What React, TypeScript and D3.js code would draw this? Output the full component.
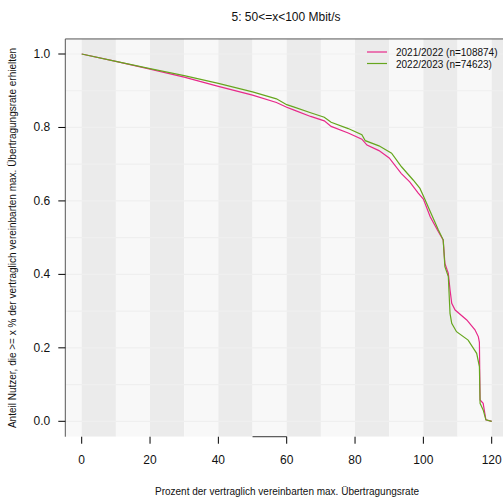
import React from "react";
import * as d3 from "d3";

const title = "5: 50<=x<100 Mbit/s";
const xLabel = "Prozent der vertraglich vereinbarten max. Übertragungsrate";
const yLabel = "Anteil Nutzer, die >= x % der vertraglich vereinbarten max. Übertragungsrate erhielten";
const seriesNames = ["2021/2022 (n=108874)", "2022/2023 (n=74623)"];
const seriesColors = ["#e7298a", "#66a61e"];
const xTicks = [0, 20, 40, 60, 80, 100, 120];
const yTicks = [0, 0.2, 0.4, 0.6, 0.8, 1.0];
const yGrid = [0, 0.1, 0.2, 0.3, 0.4, 0.5, 0.6, 0.7, 0.8, 0.9, 1.0];

const pinkX = [0, 10, 20, 30, 40, 50, 57, 60, 62, 67, 71, 73, 78, 82, 83.5, 87, 90, 93.5, 96, 98.5, 100, 102, 104.4, 105.8, 106.3, 107.3, 107.8, 108.3, 109.3, 112.7, 115.1, 116.1, 116.4, 116.6, 117.5, 118.3, 120];
const pinkY = [1.0, 0.98, 0.959, 0.937, 0.912, 0.888, 0.868, 0.855, 0.848, 0.83, 0.818, 0.803, 0.785, 0.768, 0.752, 0.737, 0.717, 0.675, 0.652, 0.621, 0.605, 0.557, 0.516, 0.494, 0.43, 0.403, 0.358, 0.321, 0.303, 0.276, 0.249, 0.23, 0.215, 0.058, 0.049, 0.004, 0];
const greenX = [0, 10, 20, 30, 40, 50, 57, 60, 62, 67, 71, 73, 78, 82, 83, 87, 90.7, 93.6, 97, 99, 100.5, 102, 104.4, 105.8, 106.3, 107.3, 107.8, 108.3, 109.7, 113.1, 115.6, 116.4, 116.6, 117.5, 118.3, 120];
const greenY = [1.0, 0.98, 0.96, 0.941, 0.92, 0.897, 0.878, 0.862, 0.856, 0.84, 0.828, 0.814, 0.797, 0.78, 0.764, 0.75, 0.73, 0.693, 0.657, 0.634, 0.603, 0.571, 0.521, 0.494, 0.421, 0.394, 0.294, 0.267, 0.244, 0.221, 0.185, 0.149, 0.049, 0.031, 0.004, 0];

const W = 503;
const H = 502;
const font = "'Liberation Sans', Arial, sans-serif";

export default function App() {
  const x = d3.scaleLinear().domain([0, 120]).range([81.7, 491.7]);
  const y = d3.scaleLinear().domain([0, 1]).range([421.3, 54]);
  const left = x(-4.8);
  const right = W + 5;
  const top = y(1.041);
  const bottom = y(-0.042);

  const stripes: number[] = [];
  for (let s = -10; s < 130; s += 10) stripes.push(s);

  const line = d3
    .line<[number, number]>()
    .x((d) => x(d[0]))
    .y((d) => y(d[1]));

  const series = [
    pinkX.map((v, i) => [v, pinkY[i]] as [number, number]),
    greenX.map((v, i) => [v, greenY[i]] as [number, number]),
  ];

  return (
    <svg
      width={W}
      height={H}
      style={{ position: "absolute", left: 0, top: 0, background: "#fff" }}
      fontFamily={font}
    >
      <defs>
        <clipPath id="plot">
          <rect x={left} y={top} width={right - left} height={bottom - top} />
        </clipPath>
      </defs>
      <g clipPath="url(#plot)">
        {stripes.map((s) => (
          <rect
            key={s}
            x={x(s)}
            y={top}
            width={x(s + 10) - x(s)}
            height={bottom - top}
            fill={Math.round(s / 10) % 2 === 0 ? "#ebebeb" : "#f8f8f8"}
          />
        ))}
        {yGrid.map((g) => (
          <line key={g} x1={left} x2={right} y1={y(g)} y2={y(g)} stroke="#efefef" strokeWidth={1.2} />
        ))}
        {series.map((d, i) => (
          <path key={i} d={line(d) || ""} fill="none" stroke={seriesColors[i]} strokeWidth={1.2} />
        ))}
      </g>
      {/* panel border pieces */}
      <line x1={left} x2={right} y1={top} y2={top} stroke="#555" strokeWidth={1} />
      <line x1={left} x2={left} y1={top} y2={bottom} stroke="#555" strokeWidth={1} />
      <line x1={x(50)} x2={x(60)} y1={bottom} y2={bottom} stroke="#333" strokeWidth={1} />
      {/* y axis */}
      {yTicks.map((t) => (
        <g key={t}>
          <line x1={left - 7} x2={left} y1={y(t)} y2={y(t)} stroke="#000" />
          <text x={left - 15} y={y(t) + 4} fontSize={12} textAnchor="end" fill="#111">
            {t.toFixed(1)}
          </text>
        </g>
      ))}
      {/* x axis */}
      {xTicks.map((t) => (
        <g key={t}>
          <line x1={x(t)} x2={x(t)} y1={bottom} y2={bottom + 7} stroke="#000" />
          <text x={x(t)} y={464} fontSize={12} textAnchor="middle" fill="#111">
            {t}
          </text>
        </g>
      ))}
      <text x={286} y={21} fontSize={12} textAnchor="middle" fill="#111">
        {title}
      </text>
      <text x={287} y={495} fontSize={10} textAnchor="middle" fill="#111">
        {xLabel}
      </text>
      <text
        transform={`translate(16,${238}) rotate(-90)`}
        fontSize={10}
        textAnchor="middle"
        fill="#111"
      >
        {yLabel}
      </text>
      {/* legend */}
      {seriesNames.map((n, i) => (
        <g key={n}>
          <line x1={367} x2={387} y1={52 + i * 11.5} y2={52 + i * 11.5} stroke={seriesColors[i]} strokeWidth={1.2} />
          <text x={396} y={56 + i * 11.5} fontSize={10} fill="#111">
            {n}
          </text>
        </g>
      ))}
    </svg>
  );
}
